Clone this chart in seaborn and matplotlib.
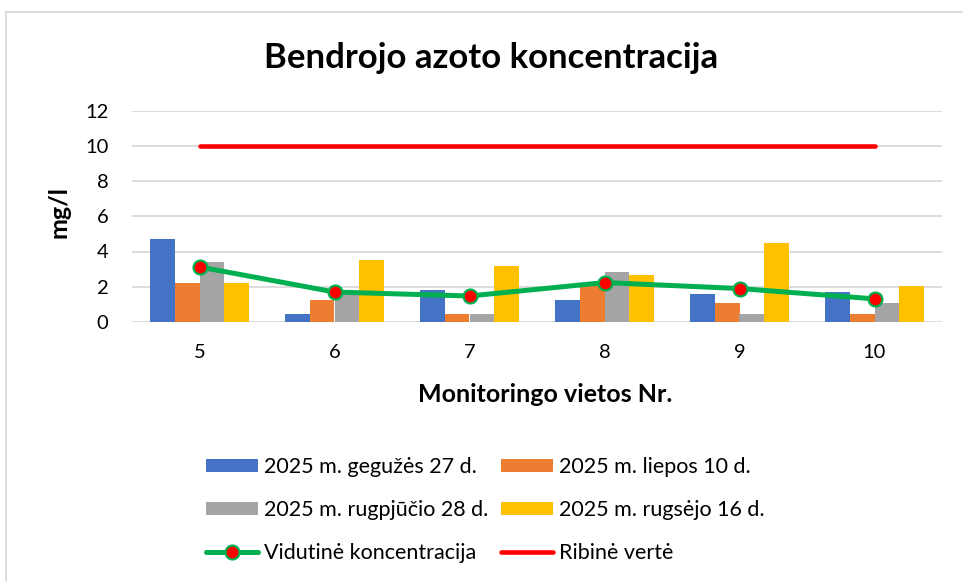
import matplotlib
matplotlib.use("Agg")
import matplotlib.pyplot as plt
from matplotlib.lines import Line2D
from matplotlib.patches import Patch
import numpy as np
import pandas as pd
import seaborn as sns

# Monitoring sites and sampling dates
sites = ["5", "6", "7", "8", "9", "10"]
dates = [
    "2025 m. gegužės 27 d.",
    "2025 m. liepos 10 d.",
    "2025 m. rugpjūčio 28 d.",
    "2025 m. rugsėjo 16 d.",
]

# Total nitrogen, mg/l
gegužės_27 = [4.7, 0.45, 1.8, 1.25, 1.6, 1.7]
liepos_10 = [2.2, 1.25, 0.45, 2.2, 1.05, 0.45]
rugpjūčio_28 = [3.4, 1.6, 0.45, 2.85, 0.45, 1.05]
rugsėjo_16 = [2.2, 3.5, 3.2, 2.65, 4.5, 2.05]

limit_value = 10
y_ticks = [0, 2, 4, 6, 8, 10, 12]

series = [gegužės_27, liepos_10, rugpjūčio_28, rugsėjo_16]
bar_colors = ["#4472C4", "#ED7D31", "#A5A5A5", "#FFC000"]
green = "#00B050"
red = "#FF0000"
grid_col = "#D9D9D9"

df = pd.DataFrame(
    [(s, d, v) for d, vals in zip(dates, series) for s, v in zip(sites, vals)],
    columns=["site", "date", "value"],
)
mean_df = df.groupby("site", sort=False)["value"].mean().reset_index()
limit_df = pd.DataFrame({"site": sites, "value": [limit_value] * len(sites)})

sns.set_theme(style="white")
plt.rcParams["font.family"] = ["Lato", "DejaVu Sans"]

W, H = 963, 581
fig = plt.figure(figsize=(W / 100, H / 100), dpi=100)
ax = fig.add_axes([132 / W, 1 - 322 / H, 810 / W, 211.5 / H])

sns.barplot(
    data=df, x="site", y="value", hue="date", order=sites, hue_order=dates,
    palette=bar_colors, saturation=1, width=0.73, gap=0, ax=ax, legend=False,
    edgecolor="none", linewidth=0, zorder=2,
)

pos = np.arange(len(sites))
sns.lineplot(x=pos, y=limit_df["value"].to_numpy(), ax=ax, color=red,
             linewidth=3.3, solid_capstyle="round", zorder=3)
sns.lineplot(x=pos, y=mean_df["value"].to_numpy(), ax=ax, color=green,
             linewidth=3.6, marker="o", markersize=10,
             markerfacecolor=red, markeredgecolor=green, markeredgewidth=1.6,
             zorder=4)

ax.set_xlim(-0.5, len(sites) - 0.5)
ax.set_ylim(0, 12)
ax.set_yticks(y_ticks)
ax.set_xticks(pos)
ax.set_xticklabels(sites)
ax.yaxis.grid(True, color=grid_col, linewidth=1.3, zorder=0)
ax.set_axisbelow(True)
for sp in ax.spines.values():
    sp.set_visible(False)
ax.tick_params(axis="both", length=0, labelsize=14.5, colors="#000000")
ax.tick_params(axis="x", pad=16)
ax.tick_params(axis="y", pad=17)

ax.set_xlabel("Monitoringo vietos Nr.", fontsize=18, fontweight="bold",
              color="black", va="center")
ax.xaxis.set_label_coords((545 - 132) / 810, (322 - 395) / 211.5)
ax.set_ylabel("mg/l", fontsize=18, fontweight="bold", color="black",
              va="center")
ax.yaxis.set_label_coords((59 - 132) / 810, (322 - 212) / 211.5)

fig.text(491 / W, 1 - 58 / H, "Bendrojo azoto koncentracija",
         ha="center", va="center", fontsize=25, fontweight="bold",
         color="black")

# chart frame
fig.add_artist(Line2D([6 / W, 1], [1 - 12 / H] * 2, color=grid_col,
                      linewidth=1.3, transform=fig.transFigure))
fig.add_artist(Line2D([6 / W] * 2, [0, 1 - 12 / H], color=grid_col,
                      linewidth=1.3, transform=fig.transFigure))

# legend, filled row by row
h = [Patch(facecolor=c, edgecolor="none") for c in bar_colors]
mean_h = Line2D([], [], color=green, linewidth=3.6, marker="o", markersize=10,
                markerfacecolor=red, markeredgecolor=green, markeredgewidth=1.6)
lim_h = Line2D([], [], color=red, linewidth=3.3, solid_capstyle="round")
handles = [h[0], h[2], mean_h, h[1], h[3], lim_h]
labels = [dates[0], dates[2], "Vidutinė koncentracija",
          dates[1], dates[3], "Ribinė vertė"]
leg = fig.legend(handles, labels, ncol=2, loc="center",
                 bbox_to_anchor=(485.5 / W, 1 - 510 / H), frameon=False,
                 fontsize=15.5, handlelength=2.42, handleheight=0.55,
                 handletextpad=0.28, columnspacing=0.6, labelspacing=1.08)
for t in leg.get_texts():
    t.set_color("black")

fig.savefig("out.png", dpi=100, facecolor="white")
